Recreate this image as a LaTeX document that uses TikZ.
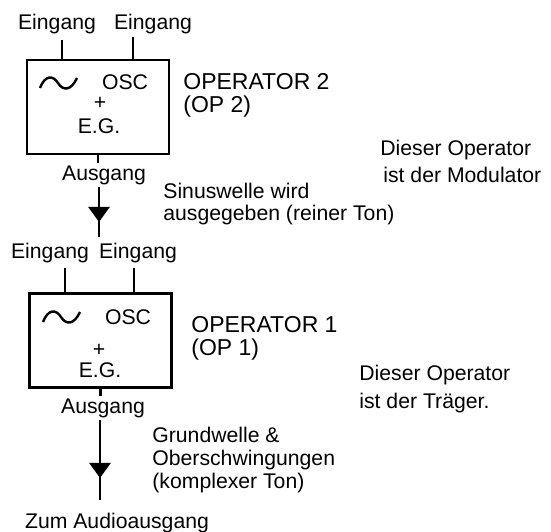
\documentclass[tikz,border=0pt]{standalone}
\usepackage{fontspec}
\setmainfont{Liberation Sans}
\usetikzlibrary{arrows.meta,decorations.markings}

\begin{document}
\begin{tikzpicture}[x=0.5pt,y=-0.5pt,
    txt/.style={inner sep=1pt,align=left,font=\fontsize{10.6}{#1}\selectfont},
    txt/.default=11.5,
    optxt/.style={inner sep=1pt,anchor=west,align=left,font=\fontsize{11.5}{11.5}\selectfont},
    opbox/.style={draw,line width=1.2pt,minimum width=71pt,minimum height=47pt,inner sep=0pt},
    wire/.style={line width=1.2pt},
    flow/.style={line width=1.3pt,postaction={decorate},
        decoration={markings,mark=at position #1 with {\arrow{Triangle[width=10.5pt,length=7.5pt]}}}}]
    \useasboundingbox (0,0) rectangle (551,531);
    % Operator 2
    \node[txt] (ein2a) at (57,24) {Eingang};
    \node[txt] (ein2b) at (153,24) {Eingang};
    \node[opbox] (op2) at (98,107) {};
    \coordinate (in2a) at (62,40);
    \coordinate (in2b) at (133,37);
    \draw[wire] (in2a) -- (in2a |- op2.north);
    \draw[wire] (in2b) -- (in2b |- op2.north);
    \draw[wire] (40,88) .. controls (45,75) and (53,75) .. (58,83) .. controls (63,91) and (71,91) .. (77,78);
    \node[txt] (osc2) at (125,82) {OSC};
    \node[txt] (plus2) at (100,103) {+};
    \node[txt] (eg2) at (99,126) {E.G.};
    \node[txt] (aus2) at (104,175) {Ausgang};
    \draw[wire] (op2.south) -- (op2.south |- aus2.north);
    \coordinate (end2) at (99,237);
    \draw[flow=0.7] (aus2.south -| end2) -- (end2);
    \node[optxt] (op2lbl) at (181,95) {OPERATOR 2\\(OP 2)};
    \node[txt=11,anchor=west] (sinus) at (161,204) {Sinuswelle wird\\ausgegeben (reiner Ton)};
    \node[txt=13.5,anchor=west] (modul) at (378,161) {Dieser Operator\\\hspace{1.5pt}ist der Modulator};
    % Operator 1
    \node[txt] (ein1a) at (50,253) {Eingang};
    \node[txt] (ein1b) at (138,253) {Eingang};
    \node[opbox] (op1) at (100.5,340.5) {};
    \coordinate (in1a) at (65,268);
    \coordinate (in1b) at (134,268);
    \draw[wire] (in1a) -- (in1a |- op1.north);
    \draw[wire] (in1b) -- (in1b |- op1.north);
    \draw[wire] (43,322) .. controls (48,309) and (56,309) .. (61,317) .. controls (66,325) and (74,325) .. (80,312);
    \node[txt] (osc1) at (128,317) {OSC};
    \node[txt] (plus1) at (99,350) {+};
    \node[txt] (eg1) at (100,370) {E.G.};
    \node[txt] (aus1) at (103,408) {Ausgang};
    \draw[wire] (op1.south) -- (op1.south |- aus1.north);
    \coordinate (end1) at (100,500);
    \draw[flow=0.725] (aus1.south -| end1) -- (end1);
    \node[txt] (audio) at (117,523) {Zum Audioausgang};
    \node[optxt] (op1lbl) at (189,338) {OPERATOR 1\\(OP 1)};
    \node[txt,anchor=west] (grund) at (150,460) {Grundwelle \&\\Oberschwingungen\\(komplexer Ton)};
    \node[txt=14,anchor=west] (traeg) at (357,389) {Dieser Operator\\ist der Träger.};
\end{tikzpicture}
\end{document}
